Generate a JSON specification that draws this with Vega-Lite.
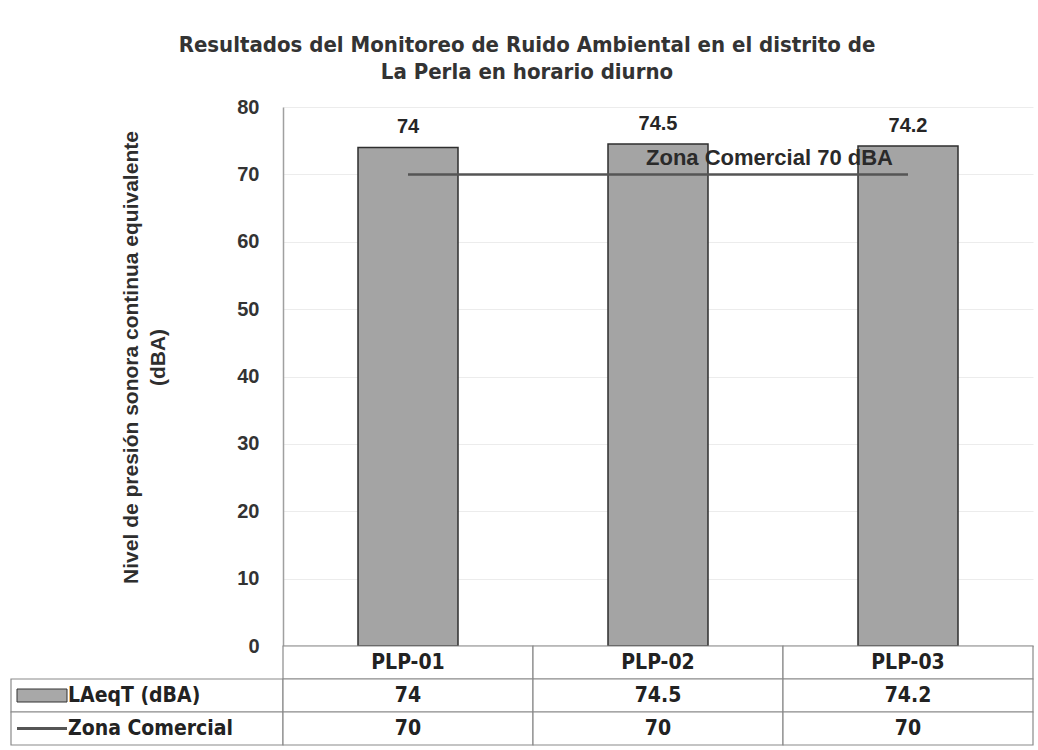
{
  "$schema": "https://vega.github.io/schema/vega-lite/v6.json",
  "background": "white",
  "padding": {"left": 10, "top": 34, "right": 6, "bottom": 2},
  "title": {
    "text": ["Resultados del Monitoreo de Ruido Ambiental en el distrito de", "La Perla en horario diurno"],
    "font": "DejaVu Sans Condensed, Liberation Sans, sans-serif",
    "fontSize": 22,
    "fontWeight": "bold",
    "color": "#333333",
    "lineHeight": 27,
    "anchor": "middle",
    "dx": 5,
    "offset": 13
  },
  "datasets": {
    "main": [
      {"station": "PLP-01", "laeqt": 74, "zona": 70},
      {"station": "PLP-02", "laeqt": 74.5, "zona": 70},
      {"station": "PLP-03", "laeqt": 74.2, "zona": 70}
    ],
    "series": [
      {"serie": "laeqt", "label": "LAeqT (dBA)"},
      {"serie": "zona", "label": "Zona Comercial"}
    ]
  },
  "columns": 2,
  "spacing": 0,
  "bounds": "flush",
  "align": "each",
  "concat": [
    {
      "width": 272,
      "height": 539,
      "data": {"values": []},
      "mark": {"type": "point", "opacity": 0},
      "encoding": {}
    },
    {
      "width": 750,
      "height": 539,
      "data": {"name": "main"},
      "encoding": {
        "x": {
          "field": "station",
          "type": "nominal",
          "scale": {"domain": ["PLP-01", "PLP-02", "PLP-03"], "paddingInner": 0, "paddingOuter": 0},
          "axis": {"labels": false, "ticks": false, "title": null, "domainColor": "#9a9a9a", "domainWidth": 1.5}
        }
      },
      "layer": [
        {
          "mark": {"type": "bar", "width": {"band": 0.4}, "fill": "#a4a4a4", "stroke": "#2e2e2e", "strokeWidth": 1.5},
          "encoding": {
            "y": {
              "field": "laeqt",
              "type": "quantitative",
              "scale": {"domain": [0, 80], "nice": false},
              "axis": {
                "values": [0, 10, 20, 30, 40, 50, 60, 70, 80],
                "title": ["Nivel de presión sonora continua equivalente", "(dBA)"],
                "titleFont": "Liberation Sans",
                "titleFontSize": 21,
                "titleFontWeight": 700,
                "titleColor": "#2e2e2e",
                "titleLineHeight": 27,
                "titlePadding": 68,
                "titleY": 250,
                "labelFont": "Liberation Sans",
                "labelFontSize": 20,
                "labelFontWeight": "bold",
                "labelColor": "#333333",
                "labelPadding": 24,
                "ticks": false,
                "domainColor": "#a0a0a0",
                "domainWidth": 1.5,
                "gridColor": "#ececec"
              }
            }
          }
        },
        {
          "mark": {"type": "text", "baseline": "alphabetic", "dy": -14, "font": "Liberation Sans", "fontSize": 20, "fontWeight": "bold", "color": "#262626"},
          "encoding": {
            "y": {"field": "laeqt", "type": "quantitative"},
            "text": {"field": "laeqt", "type": "quantitative"}
          }
        },
        {
          "mark": {"type": "line", "color": "#555555", "strokeWidth": 2.5},
          "encoding": {
            "y": {"field": "zona", "type": "quantitative"}
          }
        },
        {
          "transform": [{"filter": "datum.station === 'PLP-02'"}],
          "mark": {"type": "text", "align": "left", "baseline": "alphabetic", "dx": -12, "dy": -9, "font": "Liberation Sans", "fontSize": 22, "fontWeight": "bold", "color": "#2a2a2a"},
          "encoding": {
            "y": {"field": "zona", "type": "quantitative"},
            "text": {"value": "Zona Comercial 70 dBA"}
          }
        }
      ]
    },
    {
      "width": 272,
      "height": 99,
      "data": {"name": "series"},
      "encoding": {
        "y": {"field": "serie", "type": "nominal", "scale": {"domain": ["station", "laeqt", "zona"], "paddingInner": 0, "paddingOuter": 0}, "axis": null}
      },
      "layer": [
        {
          "mark": {"type": "rect", "fill": "white", "stroke": "#8a8a8a", "strokeWidth": 1.2},
          "encoding": {
            "x": {"datum": "c", "type": "nominal", "scale": {"domain": ["c"], "paddingInner": 0, "paddingOuter": 0}, "axis": null}
          }
        },
        {
          "transform": [{"filter": "datum.serie === 'laeqt'"}],
          "mark": {"type": "point", "shape": "M-1,-0.26H1V0.26H-1Z", "size": 2500, "filled": true, "fill": "#a8a8a8", "stroke": "#333333", "strokeWidth": 1, "opacity": 1, "xOffset": 31},
          "encoding": {
            "x": {"datum": "c", "type": "nominal", "bandPosition": 0}
          }
        },
        {
          "transform": [{"filter": "datum.serie === 'zona'"}],
          "mark": {"type": "point", "shape": "M-1,-0.06H1V0.06H-1Z", "size": 2500, "filled": true, "fill": "#555555", "strokeWidth": 0, "opacity": 1, "xOffset": 31},
          "encoding": {
            "x": {"datum": "c", "type": "nominal", "bandPosition": 0}
          }
        },
        {
          "mark": {"type": "text", "align": "left", "baseline": "middle", "dx": 57, "font": "DejaVu Sans Condensed, Liberation Sans, sans-serif", "fontSize": 21, "fontWeight": "bold", "color": "#222222"},
          "encoding": {
            "x": {"datum": "c", "type": "nominal", "bandPosition": 0},
            "text": {"field": "label", "type": "nominal"}
          }
        }
      ]
    },
    {
      "width": 750,
      "height": 99,
      "data": {"name": "main"},
      "layer": [
        {
          "mark": {"type": "rect", "fill": "white", "stroke": "#8a8a8a", "strokeWidth": 1.2},
          "encoding": {
            "x": {"field": "station", "type": "nominal", "scale": {"domain": ["PLP-01", "PLP-02", "PLP-03"], "paddingInner": 0, "paddingOuter": 0}, "axis": null},
            "y": {"datum": "station", "type": "nominal", "scale": {"domain": ["station", "laeqt", "zona"], "paddingInner": 0, "paddingOuter": 0}, "axis": null}
          }
        },
        {
          "mark": {"type": "text", "baseline": "middle", "font": "DejaVu Sans Condensed, Liberation Sans, sans-serif", "fontSize": 21, "fontWeight": "bold", "color": "#222222"},
          "encoding": {
            "x": {"field": "station", "type": "nominal"},
            "y": {"datum": "station", "type": "nominal"},
            "text": {"field": "station", "type": "nominal"}
          }
        },
        {
          "transform": [{"fold": ["laeqt", "zona"], "as": ["serie", "valor"]}],
          "mark": {"type": "rect", "fill": "white", "stroke": "#8a8a8a", "strokeWidth": 1.2},
          "encoding": {
            "x": {"field": "station", "type": "nominal"},
            "y": {"field": "serie", "type": "nominal"}
          }
        },
        {
          "transform": [{"fold": ["laeqt", "zona"], "as": ["serie", "valor"]}],
          "mark": {"type": "text", "baseline": "middle", "font": "DejaVu Sans Condensed, Liberation Sans, sans-serif", "fontSize": 21, "fontWeight": "bold", "color": "#222222"},
          "encoding": {
            "x": {"field": "station", "type": "nominal"},
            "y": {"field": "serie", "type": "nominal"},
            "text": {"field": "valor", "type": "nominal"}
          }
        }
      ]
    }
  ],
  "config": {"view": {"stroke": null}, "font": "Liberation Sans"}
}
